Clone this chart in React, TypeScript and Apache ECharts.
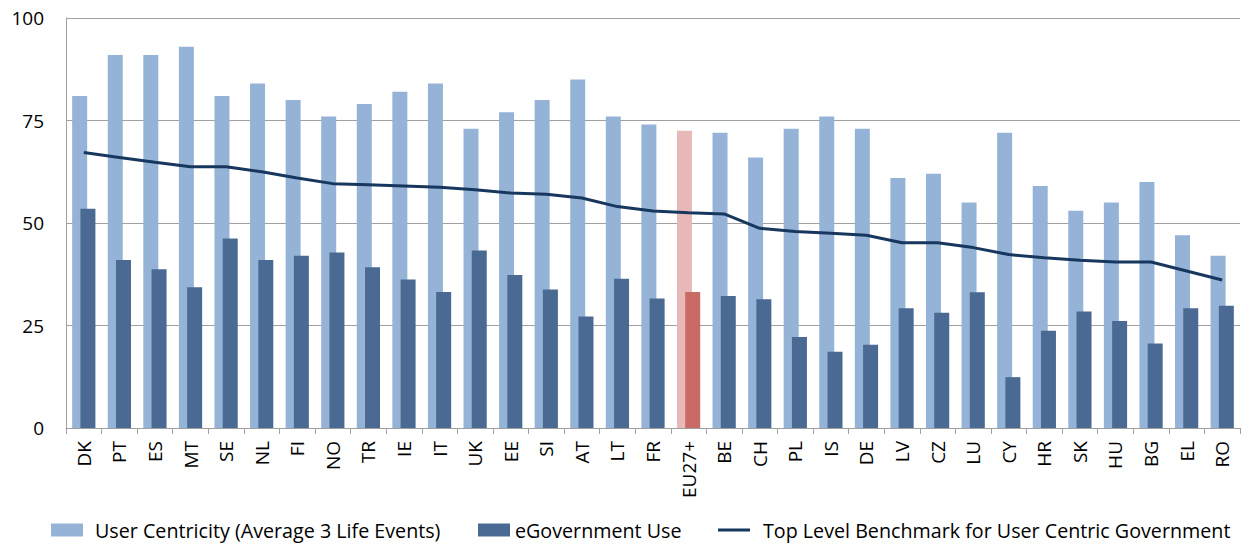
import React, { useEffect, useRef } from "react";
import * as echarts from "echarts";

const categories = ["DK","PT","ES","MT","SE","NL","FI","NO","TR","IE","IT","UK","EE","SI","AT","LT","FR","EU27+","BE","CH","PL","IS","DE","LV","CZ","LU","CY","HR","SK","HU","BG","EL","RO"];
const userCentricity = [81,91,91,93,81,84,80,76,79,82,84,73,77,80,85,76,74,72.5,72,66,73,76,73,61,62,55,72,59,53,55,60,47,42];
const eGovUse = [53.5,41,38.7,34.3,46.2,41,42,42.8,39.2,36.2,33.2,43.3,37.3,33.8,27.2,36.4,31.6,33.2,32.2,31.4,22.2,18.6,20.3,29.2,28.1,33.1,12.4,23.7,28.4,26.1,20.6,29.2,29.8];
const benchmark = [67.2,66,64.8,63.7,63.7,62.5,61,59.6,59.3,59,58.7,58.1,57.3,57,56.1,54,52.9,52.5,52.2,48.7,47.9,47.5,47,45.2,45.2,44,42.3,41.5,40.9,40.5,40.5,38.3,36.1];
const yTicks = [0, 25, 50, 75, 100];
const highlight = "EU27+";

const FONT = "Open Sans";

export default function App() {
  const ref = useRef<HTMLDivElement>(null);
  useEffect(() => {
    document.body.style.margin = "0";
    if (!ref.current) return;
    const chart = echarts.init(ref.current, null, { renderer: "svg" });
    const lightColor = "#95B3D7";
    const darkColor = "#4A6A94";
    const lineColor = "#17375E";
    const legendText = { fontFamily: FONT, fontSize: 19.7, color: "#000" };
    const legendBase = { top: 520, padding: 0, itemWidth: 32, itemHeight: 13, itemGap: 0, selectedMode: false };
    chart.setOption({
      animation: false,
      grid: { left: 66, right: 11, top: 18, bottom: 117 },
      legend: [
        { ...legendBase, textStyle: { ...legendText, padding: [0, 0, 0, 7] }, data: [{ name: "User Centricity (Average 3 Life Events)", icon: "rect" }], left: 51 },
        { ...legendBase, textStyle: legendText, data: [{ name: "eGovernment Use", icon: "rect" }], left: 478 },
        { ...legendBase, textStyle: { ...legendText, padding: [0, 0, 0, 8] }, data: [{ name: "Top Level Benchmark for User Centric Government", icon: "rect", itemStyle: { color: lineColor } }], left: 718, itemHeight: 3 },
      ],
      xAxis: {
        type: "category",
        data: categories,
        boundaryGap: true,
        axisLine: { lineStyle: { color: "#A0A0A0", width: 1 } },
        axisTick: { show: true, length: 6, lineStyle: { color: "#A0A0A0" } },
        axisLabel: { rotate: 90, interval: 0, margin: 13, fontFamily: FONT, fontSize: 19, color: "#000" },
      },
      yAxis: {
        type: "value",
        min: yTicks[0],
        max: yTicks[yTicks.length - 1],
        interval: 25,
        axisLine: { show: true, lineStyle: { color: "#A0A0A0" } },
        axisTick: { show: false },
        splitLine: { lineStyle: { color: "#A0A0A0", width: 1 } },
        axisLabel: { fontFamily: FONT, fontSize: 19, color: "#000", margin: 22 },
      },
      series: [
        {
          name: "User Centricity (Average 3 Life Events)",
          type: "bar",
          barWidth: 15,
          barGap: "-45%",
          itemStyle: { color: lightColor },
          data: userCentricity.map((v, i) => categories[i] === highlight ? { value: v, itemStyle: { color: "#E6B9B8" } } : v),
        },
        {
          name: "eGovernment Use",
          type: "bar",
          barWidth: 15,
          barGap: "-45%",
          itemStyle: { color: darkColor },
          data: eGovUse.map((v, i) => categories[i] === highlight ? { value: v, itemStyle: { color: "#C96A66" } } : v),
        },
        {
          name: "Top Level Benchmark for User Centric Government",
          type: "line",
          data: benchmark,
          symbol: "none",
          lineStyle: { color: lineColor, width: 3 },
          itemStyle: { color: lineColor },
          z: 5,
        },
      ],
    });
    return () => chart.dispose();
  }, []);
  return <div ref={ref} style={{ width: 1251, height: 545 }} />;
}
